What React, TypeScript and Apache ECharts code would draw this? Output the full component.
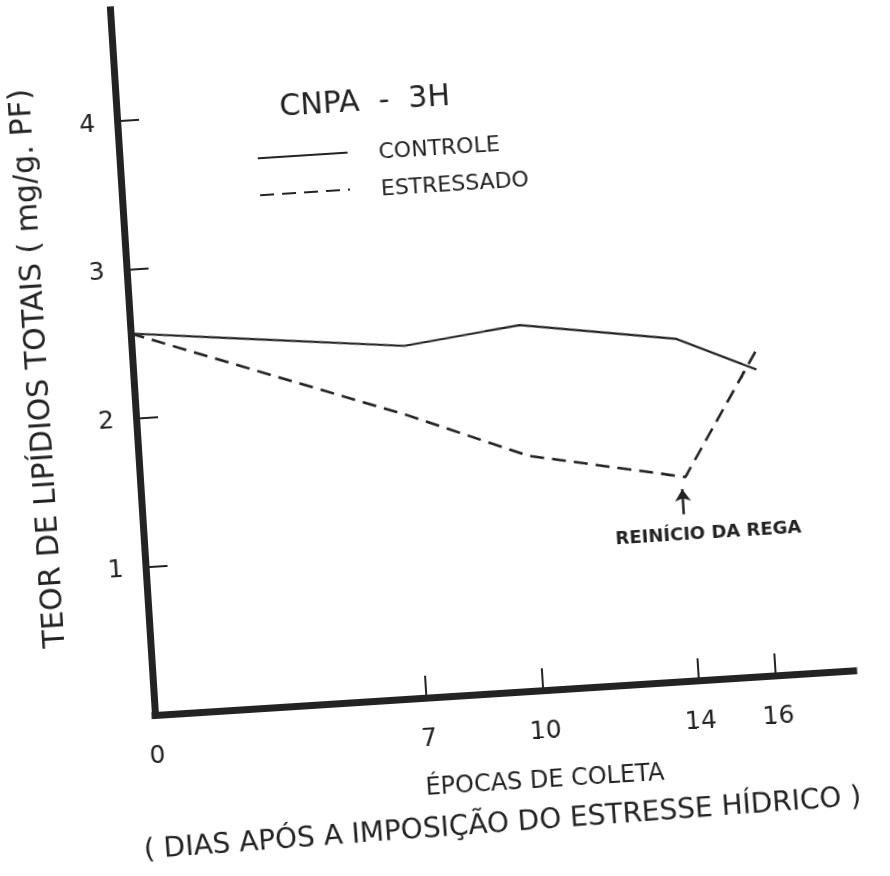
import React, { useEffect, useRef } from "react";
import * as echarts from "echarts";

// ---- data (days after water-stress imposition) ----
const days = [0, 7, 10, 14, 16];
const controle = [2.57, 2.37, 2.46, 2.3, 2.06];
const estressado = [2.57, 1.9, 1.58, 1.37, 2.18];
const xTickValues = [7, 10, 14, 16];
const xLabelValues = [0, 7, 10, 14, 16];
const yTickValues = [1, 2, 3, 4];
const seriesNames = ["CONTROLE", "ESTRESSADO"];
// annotation: arrow pointing at the stressed minimum (re-watering)
const arrowDay = 13.9;
const arrowFrom = 1.12;
const arrowTo = 1.29;
const noteText = "REINÍCIO DA REGA";
const noteAt = [14.5, 0.99];
const xSubtitle = "( DIAS APÓS A IMPOSIÇÃO DO ESTRESSE HÍDRICO )";

const FONT = '"DejaVu Sans", "Liberation Sans", sans-serif';
const INK = "#232323";

export default function App() {
  const ref = useRef<HTMLDivElement>(null);

  useEffect(() => {
    document.body.style.margin = "0";
    const chart = echarts.init(ref.current!, undefined, { renderer: "svg" });
    const pairs = (ys: number[]) => days.map((d, i) => [d, ys[i]]);

    chart.setOption({
      animation: false,
      backgroundColor: "#ffffff",
      textStyle: { fontFamily: FONT, color: INK },
      title: {
        text: "CNPA  -  3H",
        left: 318,
        top: 99,
        padding: 0,
        textStyle: { fontFamily: FONT, fontSize: 30, fontWeight: "normal", color: INK },
      },
      legend: {
        orient: "vertical",
        left: 292,
        top: 155,
        padding: 0,
        itemWidth: 90,
        itemHeight: 14,
        itemGap: 15,
        data: seriesNames,
        itemStyle: { opacity: 0 },
        textStyle: { fontFamily: FONT, fontSize: 22, color: INK, lineHeight: 14, padding: [0, 0, 0, 26] },
      },
      grid: { left: 155, top: 8.5, right: 35, bottom: 161 },
      graphic: [
        {
          type: "text",
          x: 495,
          y: 844,
          rotation: 0.011,
          silent: true,
          style: {
            text: xSubtitle,
            fontFamily: FONT,
            fontSize: 28,
            fill: INK,
            align: "center",
            verticalAlign: "middle",
          },
        },
      ],
      xAxis: {
        type: "value",
        min: 0,
        max: 18,
        name: "ÉPOCAS DE COLETA",
        nameLocation: "middle",
        nameGap: 77,
        nameTextStyle: { fontFamily: FONT, fontSize: 24, color: INK, padding: [0, 0, 0, 70] },
        axisLine: { lineStyle: { color: INK, width: 7, cap: "square" } },
        axisTick: {
          show: true,
          inside: true,
          length: 22,
          customValues: xTickValues,
          lineStyle: { color: INK, width: 2 },
        },
        axisLabel: { customValues: xLabelValues, margin: 27, fontSize: 25, color: INK, fontFamily: FONT },
        splitLine: { show: false },
      },
      yAxis: {
        type: "value",
        min: 0,
        max: 4.75,
        interval: 1,
        name: "TEOR DE LIPÍDIOS TOTAIS ( mg/g. PF)",
        nameLocation: "middle",
        nameRotate: 90,
        nameGap: 82,
        nameTextStyle: { fontFamily: FONT, fontSize: 30, color: INK },
        axisLine: { lineStyle: { color: INK, width: 7, cap: "square" } },
        axisTick: {
          show: true,
          inside: true,
          length: 22,
          customValues: yTickValues,
          lineStyle: { color: INK, width: 2 },
        },
        axisLabel: { customValues: yTickValues, margin: 22, fontSize: 25, color: INK, fontFamily: FONT },
        splitLine: { show: false },
      },
      series: [
        {
          name: seriesNames[0],
          type: "line",
          data: pairs(controle),
          symbol: "none",
          color: INK,
          lineStyle: { color: INK, width: 2.2, type: "solid" },
        },
        {
          name: seriesNames[1],
          type: "line",
          data: pairs(estressado),
          symbol: "none",
          color: INK,
          lineStyle: { color: INK, width: 2.6, type: [14, 8] },
          markLine: {
            silent: true,
            symbol: ["none", "arrow"],
            symbolSize: 12,
            label: { show: false },
            lineStyle: { color: INK, width: 2.5, type: "solid" },
            data: [[{ coord: [arrowDay, arrowFrom] }, { coord: [arrowDay, arrowTo] }]],
          },
          markPoint: {
            silent: true,
            symbol: "rect",
            symbolSize: 1,
            itemStyle: { color: "rgba(0,0,0,0)" },
            label: {
              show: true,
              position: "inside",
              formatter: noteText,
              fontFamily: FONT,
              fontSize: 18,
              fontWeight: "bold",
              color: INK,
            },
            data: [{ coord: noteAt }],
          },
        },
      ],
    });
    return () => chart.dispose();
  }, []);

  return (
    <div
      ref={ref}
      style={{
        position: "fixed",
        left: 0,
        top: 0,
        width: 890,
        height: 876,
        transform: "rotate(-3.65deg)",
        transformOrigin: "155px 715px",
      }}
    />
  );
}
